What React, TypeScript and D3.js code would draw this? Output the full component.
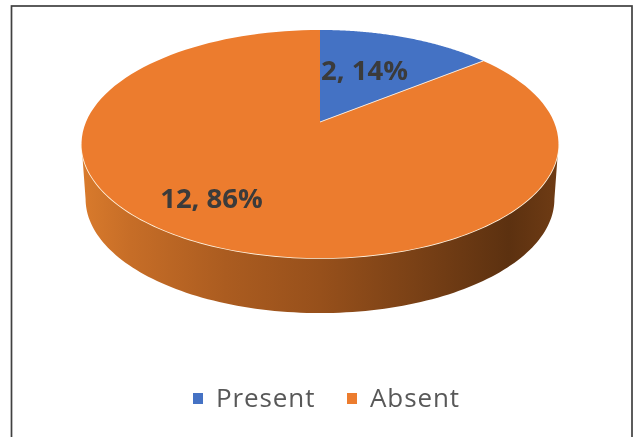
import React from "react";
import * as d3 from "d3";

const categories = ["Present", "Absent"];
const counts = [2, 12];
const percents = ["14%", "86%"];
const colors = ["#4472c4", "#ec7c2e"];

const W = 638;
const H = 437;
const persp = 0.193;

const project = (cx: number, cy: number, R: number, S: number) => (angle: number): [number, number] => {
  const X = Math.sin(angle);
  const Y = Math.cos(angle);
  const d = 1 + persp * Y;
  return [cx + (R * X) / d, cy - (S * Y) / d];
};

const topFace = project(320, 122, 234, 109.8);
const lowFace = project(320, 177, 230, 109.8);

const samples = (a0: number, a1: number, n = 120) =>
  d3.range(n + 1).map((i) => a0 + ((a1 - a0) * i) / n);

const line = d3.line<[number, number]>();

export default function App() {
  const slices = d3.pie<number>().sort(null)(counts);
  const extreme = Math.acos(-persp);
  const wallAngles = samples(extreme, 2 * Math.PI - extreme);
  const wallPts = [...wallAngles.map(topFace), ...wallAngles.slice().reverse().map(lowFace)];
  const apex: [number, number] = [320, 122];
  const labelPos: [number, number, string][] = [
    [364.5, 69, "middle"],
    [211.5, 197, "middle"],
  ];
  const legendX = [193, 347];
  return (
    <svg width={W} height={H} style={{ position: "absolute", left: 0, top: 0, background: "#fff" }}>
      <defs>
        <linearGradient id="wall" gradientUnits="userSpaceOnUse" x1={84} x2={556} y1={0} y2={0}>
          <stop offset="0" stopColor="#d87a2c" />
          <stop offset="0.1" stopColor="#c66d27" />
          <stop offset="0.3" stopColor="#ab5c20" />
          <stop offset="0.5" stopColor="#97501b" />
          <stop offset="0.7" stopColor="#7a4116" />
          <stop offset="0.9" stopColor="#5c3110" />
          <stop offset="1" stopColor="#6e3b14" />
        </linearGradient>
        <filter id="soft" x="-10%" y="-30%" width="120%" height="160%">
          <feGaussianBlur stdDeviation="0.55" />
        </filter>
      </defs>
      <rect x={11.5} y={6} width={620.5} height={H} fill="#fff" stroke="#404040" strokeWidth={1.7} />
      <path d={line(wallPts) + "Z"} fill="url(#wall)" />
      <path
        d={line(wallAngles.map(topFace)) ?? ""}
        fill="none"
        stroke="#fff3e0"
        strokeWidth={1.6}
      />
      {slices.map((s, i) => (
        <path
          key={categories[i]}
          d={line([apex, ...samples(s.startAngle, s.endAngle).map(topFace)]) + "Z"}
          fill={colors[i]}
        />
      ))}
      {slices[0] && (
        <path
          d={line([apex, topFace(slices[0].endAngle)]) ?? ""}
          stroke="#f6e6d8"
          strokeWidth={1}
          fill="none"
        />
      )}
      <g filter="url(#soft)">
        {categories.map((c, i) => (
          <text
            key={c}
            x={labelPos[i][0]}
            y={labelPos[i][1]}
            textAnchor={labelPos[i][2] as "middle"}
            dominantBaseline="central"
            fontFamily="'Open Sans', sans-serif"
            fontWeight={700}
            fontSize={27.5}
            fill="#3a3a3a"
          >
            {`${counts[i]}, ${percents[i]}`}
          </text>
        ))}
        {categories.map((c, i) => (
          <g key={c}>
            <rect x={legendX[i]} y={393} width={10} height={11} fill={colors[i]} />
            <text
              x={legendX[i] + 23}
              y={407}
              fontFamily="'Open Sans', sans-serif"
              fontSize={26}
              letterSpacing={0.9}
              fill="#595959"
            >
              {c}
            </text>
          </g>
        ))}
      </g>
    </svg>
  );
}
